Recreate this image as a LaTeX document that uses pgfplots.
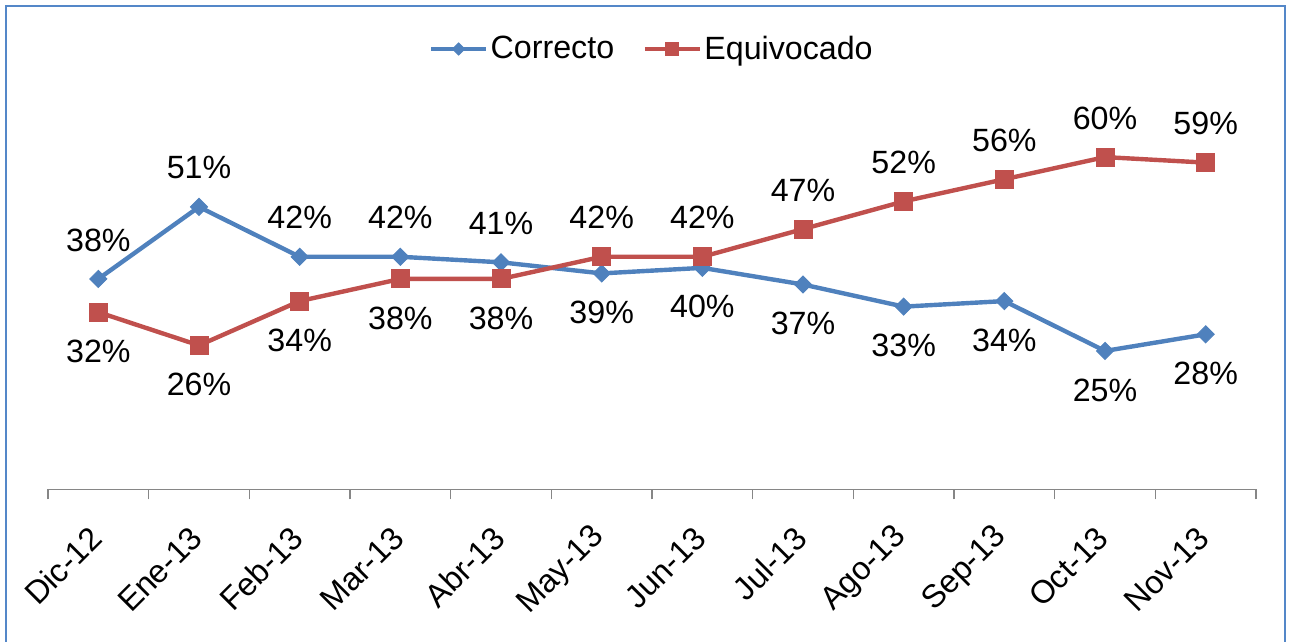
\documentclass[border=0pt]{standalone}
\usepackage{pgfplots}
\pgfplotsset{compat=1.18}
\usepackage{fontspec}
\setmainfont{Liberation Sans}
\definecolor{cblue}{RGB}{79,129,189}
\definecolor{cred}{RGB}{192,80,77}
\definecolor{frameblue}{RGB}{84,135,200}
\definecolor{axgray}{RGB}{134,134,134}
\newcommand{\lblfont}{\fontsize{16.1}{19}\selectfont}
\begin{document}
\begin{tikzpicture}[x=0.5pt,y=0.5pt]
\path[use as bounding box] (0,0) rectangle (1290,642);
\begin{scope}
\clip (0,0) rectangle (1290,642);
\draw[frameblue, line width=1pt] (6,-20) rectangle (1285,636);
\end{scope}
\begin{axis}[
  at={(24pt,76.3pt)}, anchor=south west,
  width=604pt, height=193.85pt, scale only axis,
  xmin=-0.5, xmax=11.5, ymin=0, ymax=70, clip=false,
  /pgf/number format/assume math mode=true,
  axis x line=bottom, axis y line=none,
  x axis line style={-, draw=axgray, line width=0.75pt},
  xtick={0,...,11},
  xticklabels={Dic-12,Ene-13,Feb-13,Mar-13,Abr-13,May-13,Jun-13,Jul-13,Ago-13,Sep-13,Oct-13,Nov-13},
  major tick length=0pt,
  minor xtick={-0.5,0.5,...,11.5},
  minor tick length=5pt, tick align=outside,
  minor x tick style={draw=axgray, line width=0.75pt},
  ytick=\empty,
  xticklabel style={font=\lblfont, xshift=-1pt, yshift=-21.5pt, rotate=45, anchor=east, inner sep=0pt},
  legend columns=2,
  legend style={at={(0.5,1.136)}, anchor=center, draw=none, font=\lblfont,
    inner sep=0pt, nodes={inner sep=1.2pt},
    /tikz/every even column/.append style={column sep=13pt}},
  legend image code/.code={\draw[mark repeat=2,mark phase=2,#1,every mark/.append style={scale=0.7}] plot coordinates {(0pt,0pt)(13.75pt,0pt)(27.5pt,0pt)};},
  nodes near coords={\pgfmathprintnumber[fixed,precision=0,assume math mode=true]{\pgfplotspointmeta}\%},
]
\addplot[cblue, line width=2.2pt, mark=square*, mark size=3pt, nodes near coords={},
  mark options={rotate=45, line width=0.5pt, fill=cblue, draw=cblue}]
  coordinates {(0,38)(1,51)(2,42)(3,42)(4,41)(5,39)(6,40)(7,37)(8,33)(9,34)(10,25)(11,28)};
\addlegendentry{Correcto}
\addplot[cred, line width=2.2pt, mark=square*, mark size=4.5pt, nodes near coords={},
  mark options={line width=0.5pt, fill=cred, draw=cred}]
  coordinates {(0,32)(1,26)(2,34)(3,38)(4,38)(5,42)(6,42)(7,47)(8,52)(9,56)(10,60)(11,59)};
\addlegendentry{Equivocado}
% labels above
\addplot[draw=none, mark=none, forget plot,
  every node near coord/.append style={anchor=center, yshift=19.5pt, font=\lblfont, text=black, inner sep=0pt}]
  coordinates {(0,38)(1,51)(2,42)(3,42)(4,41)(5,42)(6,42)(7,47)(8,52)(9,56)(10,60)(11,59)};
% labels below
\addplot[draw=none, mark=none, forget plot,
  every node near coord/.append style={anchor=center, yshift=-19.5pt, font=\lblfont, text=black, inner sep=0pt}]
  coordinates {(0,32)(1,26)(2,34)(3,38)(4,38)(5,39)(6,40)(7,37)(8,33)(9,34)(10,25)(11,28)};
\end{axis}
\end{tikzpicture}
\end{document}
